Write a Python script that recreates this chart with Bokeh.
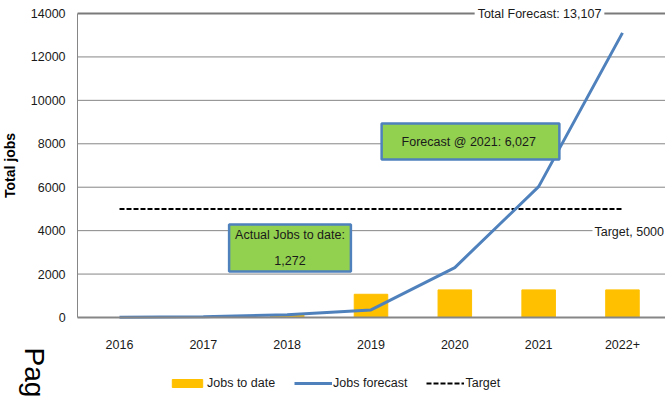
import math
from bokeh.plotting import figure
from bokeh.models import (Range1d, FixedTicker, Label, Legend, LegendItem)
from bokeh.embed import file_html
from bokeh.resources import INLINE

categories = ["2016", "2017", "2018", "2019", "2020", "2021", "2022+"]
jobs_to_date = [0, 0, 120, 1070, 1272, 1272, 1272]
jobs_forecast = [10, 40, 125, 350, 2300, 6027, 13107]
target = [5000, 5000, 5000, 5000, 5000, 5000, 5000]
y_ticks = [0, 2000, 4000, 6000, 8000, 10000, 12000, 14000]

W, H = 665, 410
FONT = "Liberation Sans"
FS = "12.5px"
GRID = "#868686"
TXT = "#1a1a1a"

# category slots at 0.5, 1.5, ... (like a factor range); pixel mapping chosen so the frame fills the page
xs = [i + 0.5 for i in range(len(categories))]
px_per_cat = 83.83
x_start = 0.5 - 119 / px_per_cat
x_end = x_start + W / px_per_cat
px_per_y = 304 / 14000.0
y_start = -(H - 317) / px_per_y
y_end = 14000 + 13 / px_per_y

p = figure(width=W, height=H, x_range=Range1d(x_start, x_end), y_range=Range1d(y_start, y_end),
           output_backend="svg", toolbar_location=None,
           min_border_left=0, min_border_right=0, min_border_top=0, min_border_bottom=0)
p.outline_line_color = None
p.background_fill_color = "white"
p.border_fill_color = "white"
p.xgrid.visible = False
p.ygrid.visible = False

# gridlines from the axis to the right edge
p.segment(x0=0, y0=y_ticks[1:-1], x1=x_end, y1=y_ticks[1:-1], line_color=GRID, line_width=1)
p.segment(x0=0, y0=y_ticks[-1], x1=x_end, y1=y_ticks[-1], line_color="#7a7a7a", line_width=2)

yax = p.yaxis[0]
yax.fixed_location = 0
yax.bounds = (0, 14000)
yax.ticker = FixedTicker(ticks=y_ticks)
yax.axis_label = "Total jobs"
yax.axis_label_text_font = FONT
yax.axis_label_text_font_style = "bold"
yax.axis_label_text_font_size = "14px"
yax.axis_label_text_color = "black"
yax.axis_label_standoff = 10
yax.major_label_text_font = FONT
yax.major_label_text_font_size = FS
yax.major_label_text_color = TXT
yax.major_label_standoff = 6
yax.axis_line_color = GRID
yax.major_tick_line_color = None
yax.minor_tick_line_color = None

xax = p.xaxis[0]
xax.fixed_location = 0
xax.bounds = (0, x_end)
xax.ticker = FixedTicker(ticks=xs)
xax.major_label_overrides = {x: c for x, c in zip(xs, categories)}
xax.major_label_text_font = FONT
xax.major_label_text_font_size = FS
xax.major_label_text_color = TXT
xax.major_label_standoff = 16
xax.axis_line_color = GRID
xax.axis_line_width = 2
xax.major_tick_line_color = None
xax.minor_tick_line_color = None

bars = p.vbar(x=xs, top=jobs_to_date, width=0.4, color="#FFC000")
tgt = p.line(xs, target, line_color="black", line_width=2, line_dash="5 2")
fc = p.line(xs, jobs_forecast, line_color="#4F81BD", line_width=3)

legend = Legend(items=[LegendItem(label="Jobs to date", renderers=[bars]),
                       LegendItem(label="Jobs forecast", renderers=[fc]),
                       LegendItem(label="Target", renderers=[tgt])],
                orientation="horizontal", location=(168, 20),
                glyph_width=38, glyph_height=10, label_standoff=1, spacing=19,
                padding=0, margin=0, border_line_color=None, background_fill_alpha=0,
                label_text_font=FONT, label_text_font_size=FS, label_text_color=TXT,
                label_height=10)
p.add_layout(legend, "center")

def sy(py):
    return H - py

p.add_layout(Label(x=539, y=sy(13), x_units="screen", y_units="screen", text="Total Forecast: 13,107",
                   text_align="center", text_baseline="middle", text_font=FONT, text_color=TXT,
                   text_font_size=FS, background_fill_color="white", padding=(3, 1)))
p.add_layout(Label(x=592, y=sy(231), x_units="screen", y_units="screen", text="Target, 5000",
                   text_align="left", text_baseline="middle", text_font=FONT, text_color=TXT,
                   text_font_size=FS, background_fill_color="white", padding=(2, 1)))
p.add_layout(Label(x=470, y=sy(141), x_units="screen", y_units="screen",
                   text="Forecast @ 2021:  6,027", text_align="center", text_baseline="middle",
                   text_font=FONT, text_font_size=FS, text_color=TXT, background_fill_color="#92D050",
                   border_line_color="#4F81BD", border_line_width=2.5, padding=(20, 11)))
p.add_layout(Label(x=289.5, y=sy(247.5), x_units="screen", y_units="screen",
                   text="Actual Jobs to date:\n1,272", text_align="center", text_baseline="middle",
                   text_font=FONT, text_font_size=FS, text_color=TXT, text_line_height=1.8,
                   background_fill_color="#92D050",
                   border_line_color="#4F81BD", border_line_width=2.5, padding=(6, 4)))
p.add_layout(Label(x=34, y=sy(347), x_units="screen", y_units="screen", text="Pag",
                   angle=-math.pi / 2, text_align="left", text_baseline="alphabetic",
                   text_font=FONT, text_font_size="28px", text_color="black"))

open("out.html", "w").write(file_html(p, INLINE))
